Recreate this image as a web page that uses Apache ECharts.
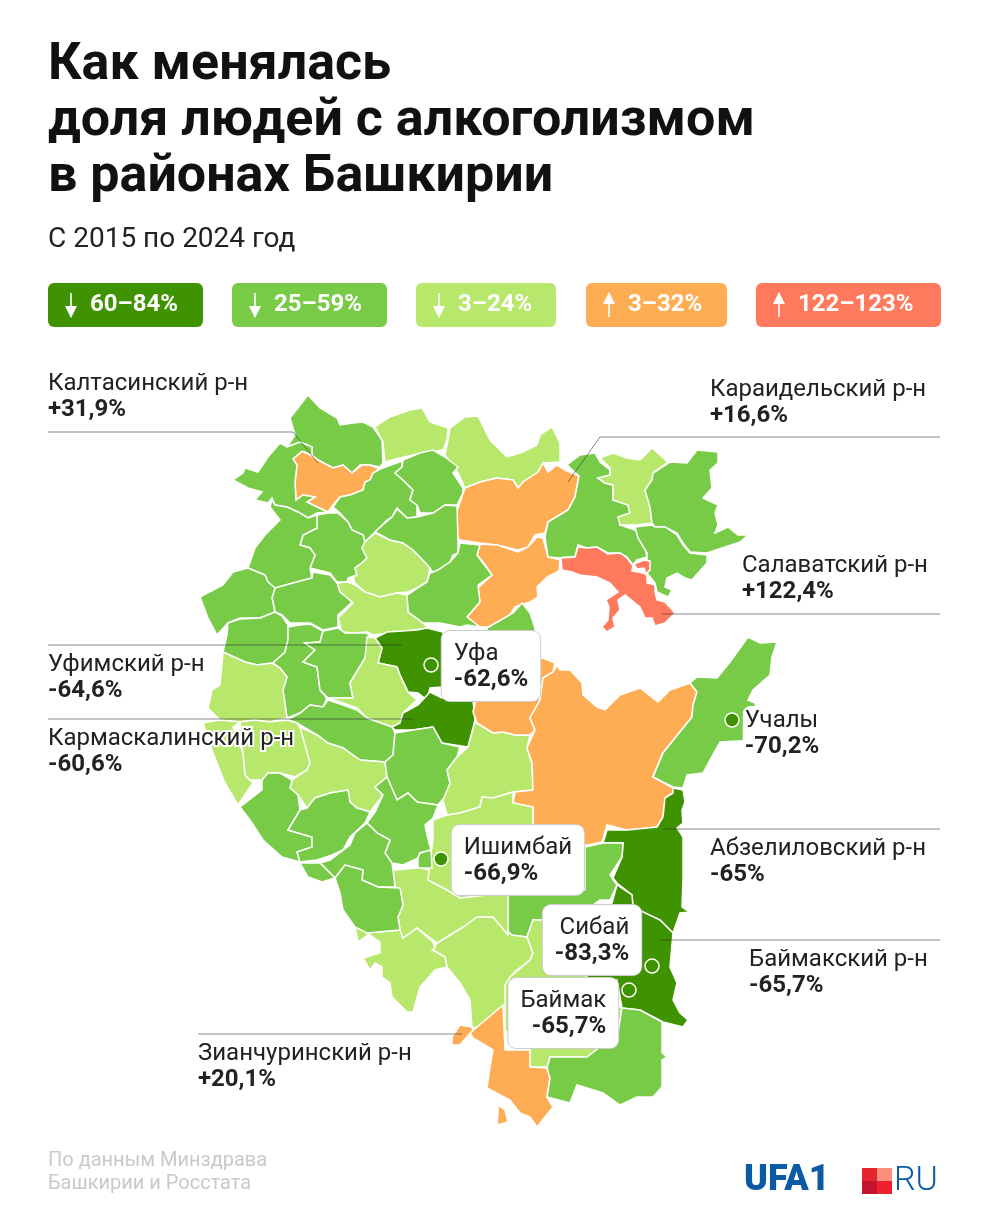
<!DOCTYPE html>
<html>
<head>
<meta charset="utf-8" />
<script src="https://cdn.jsdelivr.net/npm/echarts/dist/echarts.min.js"></script>
<style>html,body{margin:0;padding:0;background:#fff}</style>
</head>
<body>
<div id="map-chart" style="width:984px;height:1230px;"></div>
<script>
// Legend classes, from biggest fall to biggest rise
var classLabels = ['60–84%', '25–59%', '3–24%', '3–32%', '122–123%'];
var classDirections = ['down', 'down', 'down', 'up', 'up'];
var classColors = ['#3f9200', '#78cb47', '#b8e86b', '#ffad55', '#ff7a5c'];

// Labelled districts
var districtNames = ['Калтасинский р-н', 'Караидельский р-н', 'Салаватский р-н', 'Уфимский р-н', 'Кармаскалинский р-н', 'Абзелиловский р-н', 'Баймакский р-н', 'Зианчуринский р-н'];
var districtValues = ['+31,9%', '+16,6%', '+122,4%', '-64,6%', '-60,6%', '-65%', '-65,7%', '+20,1%'];

// Labelled cities and where they sit on the map
var cityNames = ['Уфа', 'Учалы', 'Ишимбай', 'Сибай', 'Баймак'];
var cityValues = ['-62,6%', '-70,2%', '-66,9%', '-83,3%', '-65,7%'];
var cityPoints = [[431, 665], [732, 720], [441, 859], [652, 966], [629, 990]];

// District outlines, "x,y x,y ..." in map units (y grows down)
var regionRings = [
  '290,418 308,395 320,408 337,418 340,425 353,423 363,422 373,427 382,440 383,463 380,467 370,465 360,465 352,473 343,465 333,468 318,460 312,455 312,447 300,442 287,447 295,435',
  '302,451 312,456 318,460 333,468 343,465 352,473 362,465 370,465 380,469 373,473 370,480 365,482 363,490 350,495 340,497 333,505 328,512 317,507 307,502 315,497 303,495 296,500 295,482 297,465 293,459',
  '287,447 300,442 312,447 312,455 302,451 293,459 297,465 295,482 296,500 303,495 315,497 307,502 317,507 328,512 317,513 308,518 300,513 287,507 275,505 272,498 268,503 255,500 262,492 248,488 233,480 243,473 245,468 258,472 268,457 280,443',
  '380,469 402,461 402,467 395,473 403,480 413,490 410,500 417,505 417,517 407,518 397,508 392,517 387,520 375,532 365,542 363,535 352,530 348,522 340,513 333,507 340,497 350,495 363,490 365,482 370,480 373,473',
  '375,427 390,417 410,410 422,408 430,422 448,428 447,440 443,450 430,452 413,455 400,458 385,462 383,442',
  '450,428 465,417 478,416 490,440 507,457 523,452 537,445 540,435 552,427 560,443 560,462 543,463 538,472 523,482 518,488 513,480 497,478 480,482 465,488 458,473 452,465 445,455 448,440',
  '403,460 420,453 433,450 445,457 458,467 453,473 463,488 463,493 457,505 445,505 433,513 420,513 417,505 410,500 413,490 403,480 395,473 402,467',
  '465,488 480,482 497,478 513,480 518,488 523,482 538,472 543,463 548,472 557,465 565,470 579,476 575,497 568,510 548,522 545,533 535,535 528,547 518,550 497,545 480,543 460,540 452,532 458,508',
  '480,544 497,545 518,552 528,547 537,537 543,538 548,557 560,560 559,571 547,577 537,587 538,597 530,602 515,607 508,618 488,627 470,627 467,617 480,602 478,588 492,575 483,562 477,555',
  '487,628 513,613 522,603 530,613 535,628 535,640 487,640',
  '567,465 580,455 595,453 600,462 610,470 610,475 598,478 605,483 613,485 613,500 628,505 630,513 620,517 620,525 635,530 640,537 645,547 647,557 637,560 633,565 627,557 620,553 608,553 597,547 587,548 578,545 575,557 565,557 560,558 548,557 545,537 548,522 568,510 575,497 579,476',
  '600,458 613,453 627,458 640,460 652,448 668,462 653,473 652,480 645,490 650,507 652,523 637,525 620,525 618,517 630,513 628,505 613,500 613,485 605,483 598,478 610,475 610,468',
  '670,462 687,463 697,450 718,452 718,463 710,470 712,488 703,498 718,505 715,513 718,525 715,533 728,527 738,535 748,535 740,542 725,547 707,553 690,552 683,543 677,533 665,527 655,527 652,523 650,507 645,490 652,480 653,473',
  '635,527 652,525 655,527 665,527 677,535 683,545 690,553 707,555 707,563 698,573 692,580 685,578 677,573 667,578 665,587 672,590 668,597 657,592 655,583 647,573 647,553 638,538',
  '561,558 575,557 578,547 587,548 597,547 608,554 620,553 627,558 633,566 632,571 643,573 647,575 647,583 655,585 655,592 657,600 665,602 675,613 665,623 655,626 652,618 645,618 640,607 625,595 618,600 620,610 613,618 615,627 607,632 602,627 608,620 609,607 606,600 618,592 610,583 597,577 580,575 572,572 562,570',
  '634,564 644,560 650,561 650,570 646,574 644,568 637,569',
  '317,515 328,513 338,513 348,522 352,530 363,535 365,542 362,548 367,558 363,562 355,568 357,575 348,578 347,582 337,582 330,573 310,568 315,555 310,548 300,545 303,535 317,528',
  '272,500 275,505 287,507 300,513 308,518 317,515 317,528 303,535 300,545 310,548 315,555 310,568 312,578 293,583 275,588 268,582 265,575 248,568 255,548 265,535 280,520 270,507',
  '375,533 390,540 403,543 413,550 420,557 430,568 427,582 417,588 408,592 397,593 380,597 365,592 355,583 353,577 357,575 355,568 363,562 367,558 362,548 365,542',
  '375,532 385,523 392,517 397,509 407,518 417,517 433,513 445,505 457,506 458,542 458,553 453,555 450,562 438,570 433,573 430,568 420,557 413,550 403,543 390,540',
  '460,543 480,545 477,555 492,575 478,585 480,602 467,617 480,627 467,625 460,627 440,623 423,623 408,612 407,595 427,582 430,573 438,570 450,562 458,553',
  '337,583 348,582 355,585 365,592 380,597 397,593 407,595 408,612 423,623 428,628 400,632 373,635 367,632 353,633 342,632 338,618 353,603 340,592',
  '272,598 275,588 293,583 312,578 313,572 330,575 337,583 340,592 352,602 338,615 338,627 323,630 310,623 290,623 282,615 275,612',
  '200,597 223,585 233,572 248,568 265,575 268,582 275,588 272,598 275,612 260,618 240,618 228,623 217,635 208,618',
  '228,623 240,619 260,618 275,612 282,616 288,625 288,640 285,652 273,663 257,665 245,662 223,652 227,635',
  '288,627 300,625 310,624 323,631 320,642 305,643 315,650 303,662 317,667 320,690 327,698 323,707 310,705 300,713 287,718 283,690 287,677 280,668 273,663 285,652 288,640',
  '323,631 338,628 345,633 367,633 372,640 365,658 350,683 353,698 328,698 320,690 317,667 303,662 315,650 305,643 320,642',
  '375,638 387,632 417,630 427,628 443,632 442,687 430,688 427,700 418,693 408,692 400,675 397,667 378,663 382,648',
  '367,637 375,638 382,648 378,663 397,667 400,675 408,692 417,700 403,713 400,723 392,727 367,718 357,708 343,703 328,698 353,698 350,683 365,658',
  '418,705 430,692 442,698 473,700 475,720 468,747 442,743 433,727 413,730 395,730 392,727 400,723 403,713',
  '287,720 300,713 310,705 323,707 328,700 343,705 357,710 367,718 392,727 395,733 393,755 385,762 360,760 343,748 328,743 317,735 297,723',
  '223,652 245,662 257,665 272,663 280,668 287,677 283,690 287,718 270,722 255,720 240,722 220,720 208,708 212,690 220,685',
  '203,723 220,720 240,722 233,727 243,753 245,775 253,783 238,805 225,783 213,753',
  '240,722 255,720 270,722 287,720 297,723 305,735 310,763 307,770 295,777 280,773 268,773 262,780 250,780 245,775 243,753',
  '300,727 317,735 328,743 343,748 360,760 385,762 387,777 375,787 383,795 370,812 357,808 350,802 348,790 330,793 315,798 307,808 298,795 290,788 292,780 307,770 310,763',
  '395,733 413,730 433,727 442,743 460,747 457,757 447,770 450,783 448,793 438,805 417,802 408,793 397,800 387,777 385,762 393,755',
  '475,722 493,733 503,732 515,735 530,735 527,748 532,763 533,790 513,792 493,798 482,797 480,807 460,813 447,815 443,800 450,783 447,770 457,757 468,747',
  '478,690 520,660 543,658 555,663 553,672 543,678 540,700 530,718 535,730 530,735 515,735 503,732 493,733 477,723 473,712',
  '557,665 560,670 570,670 582,683 583,695 597,707 605,710 620,695 640,688 658,702 670,690 690,683 697,692 693,705 692,717 663,753 653,777 673,788 673,793 665,798 663,817 657,827 627,830 607,825 602,842 588,845 560,845 533,830 533,807 513,803 515,792 533,790 532,763 527,748 535,730 530,718 540,700 543,678 553,672',
  '690,683 697,677 717,678 730,662 748,637 760,643 777,642 772,657 770,675 753,690 748,700 755,703 757,713 757,740 720,742 710,760 703,773 687,775 683,788 673,787 653,777 663,753 692,717 693,705 697,692',
  '673,788 683,790 685,802 682,810 683,823 677,828 683,837 683,880 682,907 690,912 680,913 673,933 660,920 642,912 633,907 632,895 617,883 613,878 622,857 623,843 603,843 607,830 627,830 657,827 663,817 665,798 673,793',
  '585,847 603,843 623,843 622,857 610,875 617,885 610,900 600,900 590,907 555,920 533,920 527,937 508,935 508,890 585,890',
  '612,903 617,885 632,895 633,907 660,920 673,933 670,967 677,983 673,1000 680,1013 688,1020 683,1027 663,1022 640,1010 622,1008 617,980 577,977 600,910',
  '437,943 463,927 477,917 493,917 512,935 527,937 533,953 530,960 517,970 510,977 537,975 520,1000 505,1022 472,1028 470,1000 460,983 447,967 445,957 433,950',
  '533,920 555,920 600,1000 622,1008 618,1033 587,1057 550,1057 547,1067 528,1067 530,1050 505,1030 505,985 510,977 530,960 533,953 527,937',
  '503,1005 505,1050 530,1050 530,1067 547,1068 550,1078 547,1097 553,1107 537,1127 530,1117 520,1113 510,1100 487,1088 490,1067 493,1050 473,1038 470,1033 483,1022',
  '452,1037 460,1025 472,1027 473,1030 460,1045 452,1045',
  '498,1105 505,1110 508,1122 497,1125 498,1113',
  '547,1068 550,1057 587,1057 618,1033 622,1008 640,1010 662,1022 662,1053 667,1057 662,1060 662,1087 653,1097 637,1097 620,1105 603,1093 577,1085 570,1103 547,1097 550,1078',
  '400,930 403,938 417,928 433,942 435,948 432,950 445,957 447,967 435,970 420,987 413,1012 407,1012 392,997 390,983 382,977 382,967 375,963 370,970 363,958 380,953 380,942 367,933',
  '355,927 363,923 368,935 358,942',
  '393,870 417,868 420,868 430,870 432,882 447,890 460,898 470,895 508,895 508,935 493,917 477,917 463,927 437,943 417,928 403,938 400,930 398,917 403,905 400,890 395,887',
  '433,820 447,815 460,813 480,807 482,797 493,798 513,792 513,803 533,807 533,830 533,890 460,898 447,890 432,882 428,880 430,860 433,840',
  '367,823 375,812 383,795 375,787 387,777 397,800 408,793 417,802 438,805 433,818 425,825 427,835 431,850 420,853 418,858 403,865 392,863 385,853 390,840 377,833',
  '420,853 431,850 432,868 418,868 418,858',
  '240,807 262,790 262,780 268,773 280,773 292,780 290,788 298,795 300,810 288,830 312,837 312,847 297,852 300,862 282,857 263,840 250,820',
  '307,808 315,798 330,793 348,790 350,802 357,808 370,812 365,823 350,837 343,850 332,855 317,860 300,862 297,852 312,847 312,837 288,830 300,810',
  '320,863 330,860 350,845 355,833 367,823 377,833 390,840 385,853 392,863 393,870 395,887 378,887 362,880 363,870 345,865 335,878',
  '335,878 345,865 363,870 362,880 378,887 400,888 403,905 398,917 400,930 367,933 355,927 343,910 340,893',
  '300,863 320,863 335,878 322,882 308,877'
];
// Class of each outline above, index into classLabels
var regionClasses = [1, 3, 1, 1, 2, 2, 1, 3, 3, 1, 1, 2, 1, 1, 4, 4, 1, 1, 2, 1, 1, 2, 1, 1, 1, 1, 1, 0, 2, 0, 1, 2, 2, 2, 2, 1, 2, 3, 3, 1, 0, 1, 0, 2, 2, 3, 3, 3, 1, 2, 2, 2, 2, 1, 1, 1, 1, 1, 1, 1];

var features = regionRings.map(function (ring, i) {
  var coords = ring.split(' ').map(function (p) {
    var xy = p.split(',');
    return [+xy[0], -xy[1]]; // geo flips latitude, so negate y
  });
  coords.push(coords[0]);
  return { type: 'Feature', properties: { name: 'r' + i }, geometry: { type: 'Polygon', coordinates: [coords] } };
});
echarts.registerMap('bashkiria', { type: 'FeatureCollection', features: features });

var chart = echarts.init(document.getElementById('map-chart'));

var FONT = 'Roboto';
var graphics = [];

// Legend chips
var chipX = [48, 232, 416, 586, 756];
var chipW = [155, 155, 140, 141, 185];
classLabels.forEach(function (label, i) {
  var x = chipX[i];
  var ax = x + 23;
  graphics.push({ type: 'rect', z: 10, shape: { x: x, y: 283, width: chipW[i], height: 44, r: 6 }, style: { fill: classColors[i] } });
  graphics.push({ type: 'line', z: 11, shape: { x1: ax, y1: 293, x2: ax, y2: 317 }, style: { stroke: '#fff', lineWidth: 1.6 } });
  var head = classDirections[i] == 'down'
    ? [[ax - 6, 306], [ax + 6, 306], [ax, 318]]
    : [[ax - 6, 304], [ax + 6, 304], [ax, 292]];
  graphics.push({ type: 'polygon', z: 11, shape: { points: head }, style: { fill: '#fff' } });
  graphics.push({ type: 'text', z: 11, style: { x: x + 42, y: 305, text: label, fill: '#fff', font: 'bold 24px ' + FONT, textVerticalAlign: 'middle' } });
});

// District captions and leader lines
var captionX = [48, 710, 742, 48, 48, 710, 749, 198];
var captionY = [384, 390, 566, 665, 739, 849, 960, 1054];
var leaders = [
  [[48, 432], [293, 432], [318, 463]],
  [[940, 437], [600, 437], [568, 482]],
  [[940, 614], [662, 614]],
  [[48, 645], [402, 645]],
  [[48, 719], [413, 719]],
  [[940, 829], [663, 829]],
  [[940, 940], [660, 940]],
  [[198, 1034], [462, 1034]]
];
leaders.forEach(function (pts) {
  graphics.push({ type: 'polyline', z: 10, shape: { points: pts }, style: { stroke: 'rgba(40,40,40,0.55)', lineWidth: 1, fill: null } });
});
districtNames.forEach(function (name, i) {
  graphics.push({ type: 'text', z: 12, style: { x: captionX[i], y: captionY[i], text: name, fill: '#222', font: '24px ' + FONT, textVerticalAlign: 'middle', stroke: '#fff', lineWidth: 4 } });
  graphics.push({ type: 'text', z: 12, style: { x: captionX[i], y: captionY[i] + 26, text: districtValues[i], fill: '#222', font: 'bold 24px ' + FONT, textVerticalAlign: 'middle', stroke: '#fff', lineWidth: 4 } });
});

// Source note
graphics.push({ type: 'text', z: 10, style: { x: 48, y: 1161, text: 'По данным Минздрава', fill: '#c9c9c9', font: '20px ' + FONT, textVerticalAlign: 'middle' } });
graphics.push({ type: 'text', z: 10, style: { x: 48, y: 1184, text: 'Башкирии и Росстата', fill: '#c9c9c9', font: '20px ' + FONT, textVerticalAlign: 'middle' } });

// Logo
graphics.push({ type: 'text', z: 10, style: { x: 744, y: 1181, text: 'UFA1', fill: '#0b5aa6', font: '900 36px ' + FONT, textVerticalAlign: 'middle' } });
graphics.push({ type: 'rect', z: 10, shape: { x: 862, y: 1168, width: 15, height: 13 }, style: { fill: '#e5262e' } });
graphics.push({ type: 'rect', z: 10, shape: { x: 877, y: 1168, width: 15, height: 13 }, style: { fill: '#fb8f7e' } });
graphics.push({ type: 'rect', z: 10, shape: { x: 862, y: 1181, width: 15, height: 13 }, style: { fill: '#c2142c' } });
graphics.push({ type: 'rect', z: 10, shape: { x: 877, y: 1181, width: 15, height: 13 }, style: { fill: '#f0212d' } });
graphics.push({ type: 'text', z: 10, style: { x: 894, y: 1181, text: 'RU', fill: '#0b5aa6', font: '300 34px ' + FONT, textVerticalAlign: 'middle' } });

// Callout placement per city
var cityLabelPos = ['right', 'right', 'right', 'left', 'left'];
var cityLabelOffset = [[0, 1], [0, 14], [0, 1], [0, -26], [0, 23]];
var cityLabelPadding = [[10, 12, 8, 12], [2, 2, 2, 2], [10, 12, 8, 12], [10, 12, 8, 12], [10, 12, 8, 12]];

var option = {
  backgroundColor: '#fff',
  animation: false,
  title: {
    text: 'Как менялась\nдоля людей с алкоголизмом\nв районах Башкирии',
    subtext: 'С 2015 по 2024 год',
    left: 48,
    top: 38,
    padding: 0,
    itemGap: 20,
    textStyle: { fontFamily: FONT, fontWeight: 'bold', fontSize: 52, lineHeight: 56, color: '#111' },
    subtextStyle: { fontFamily: FONT, fontSize: 28, color: '#222' }
  },
  visualMap: {
    show: false,
    type: 'piecewise',
    seriesIndex: 0,
    pieces: classColors.map(function (color, i) { return { value: i, color: color }; })
  },
  geo: {
    map: 'bashkiria',
    roam: false,
    silent: true,
    aspectScale: 1,
    left: 0,
    top: 0,
    width: 984,
    height: 1230,
    boundingCoords: [[0, 0], [984, -1230]],
    label: { show: false },
    itemStyle: { borderColor: '#fff', borderWidth: 1.5 },
    emphasis: { disabled: true },
    select: { disabled: true }
  },
  series: [
    {
      type: 'map',
      geoIndex: 0,
      silent: true,
      data: regionClasses.map(function (c, i) { return { name: 'r' + i, value: c }; })
    },
    {
      type: 'scatter',
      coordinateSystem: 'geo',
      silent: true,
      z: 20,
      symbolSize: 14,
      itemStyle: { color: classColors[0], borderColor: '#fff', borderWidth: 1.5, opacity: 1 },
      data: cityNames.map(function (name, i) {
        var isBox = name != 'Учалы';
        return {
          name: name,
          value: [cityPoints[i][0], -cityPoints[i][1], cityValues[i]],
          label: {
            show: true,
            position: cityLabelPos[i],
            distance: 3,
            offset: cityLabelOffset[i],
            formatter: '{n|' + name + '}\n{v|' + cityValues[i] + '}',
            backgroundColor: '#fff',
            borderColor: isBox ? '#ccc' : 'transparent',
            borderWidth: isBox ? 1 : 0,
            borderRadius: 8,
            padding: cityLabelPadding[i],
            rich: {
              n: { fontFamily: FONT, fontSize: 24, lineHeight: 26, color: '#222' },
              v: { fontFamily: FONT, fontSize: 24, lineHeight: 26, fontWeight: 'bold', color: '#222' }
            }
          }
        };
      })
    }
  ],
  graphic: graphics
};

chart.setOption(option);
</script>
</body>
</html>
